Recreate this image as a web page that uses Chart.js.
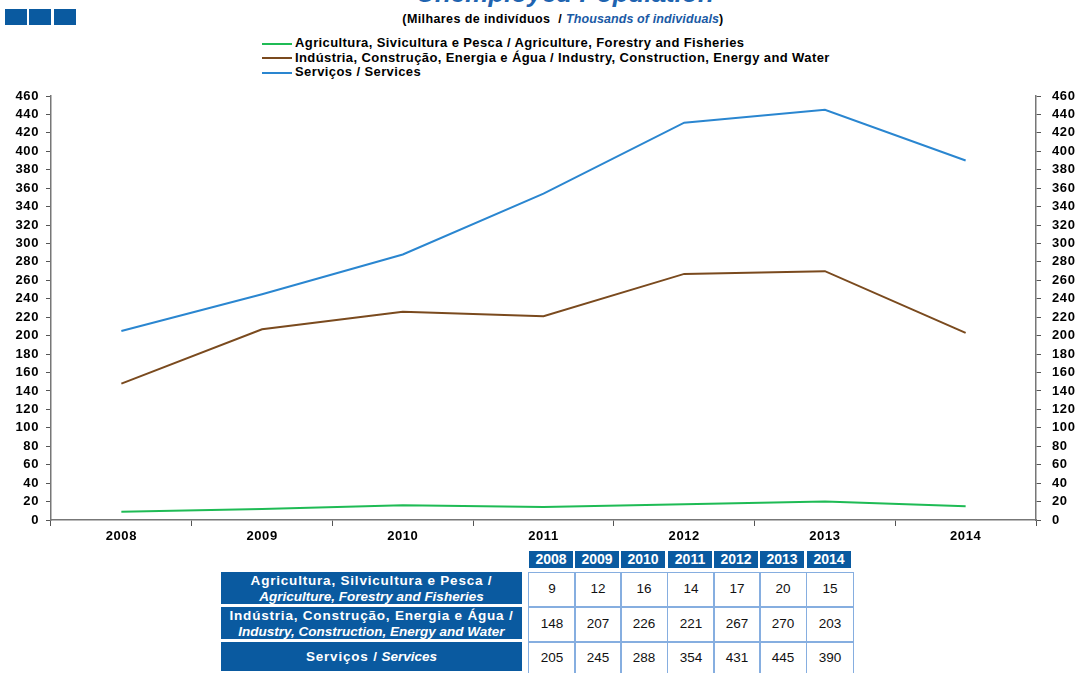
<!DOCTYPE html>
<html>
<head>
<meta charset="utf-8">
<script src="https://cdn.jsdelivr.net/npm/chart.js"></script>
<style>
  body { margin: 0; width: 1080px; height: 673px; overflow: hidden; background: #fff; font-family: "Liberation Sans", Arial, sans-serif; position: relative; }
  .sq { position: absolute; top: 9px; width: 22px; height: 16px; background: #0a5aa0; }
  #title { position: absolute; left: 0; width: 1130px; top: -22px; text-align: center; font: italic bold 26px "Liberation Sans", Arial, sans-serif; color: #1f64b0; }
  #subtitle { position: absolute; left: 0; width: 1126px; top: 12px; text-align: center; font: bold 12.5px "Liberation Sans", Arial, sans-serif; letter-spacing: 0.4px; }
  #subtitle i { color: #1a5aa5; letter-spacing: 0.1px; }
  #legend { position: absolute; left: 262px; top: 36px; font: bold 13px "Liberation Sans", Arial, sans-serif; letter-spacing: 0.4px; }
  #legend div { height: 14.5px; line-height: 14.5px; white-space: nowrap; }
  #legend span.ln { display: inline-block; width: 30px; height: 2px; vertical-align: middle; margin-right: 3px; }
  #wrap { position: absolute; left: 0; top: 0; width: 1080px; height: 545px; }
  .yr { position: absolute; top: 551px; height: 17px; width: 44px; background: #0a5aa0; color: #fff; font: bold 14px "Liberation Sans", Arial, sans-serif; text-align: center; line-height: 17px; }
  .rh { position: absolute; left: 221px; width: 301px; background: #0a5aa0; color: #fff; font: bold 13.5px "Liberation Sans", Arial, sans-serif; text-align: center; line-height: 16px; display: flex; flex-direction: column; justify-content: center; padding-top: 1px; box-sizing: border-box; }
  .rh .n { letter-spacing: 0.8px; }
  .cell { position: absolute; width: 44px; height: 33px; border: 1.5px solid #86aee0; box-sizing: border-box; font: 13.5px "Liberation Sans", Arial, sans-serif; text-align: center; line-height: 31px; color: #111; }
</style>
</head>
<body>
<div class="sq" style="left:5px"></div>
<div class="sq" style="left:29px"></div>
<div class="sq" style="left:54px"></div>
<div id="title">Unemployed Population</div>
<div id="subtitle">(Milhares de indivíduos&nbsp; / <i>Thousands of individuals</i>)</div>
<div id="legend"></div>
<div id="wrap"><canvas id="chart"></canvas></div>
<div id="table"></div>
<script>
const years = ['2008', '2009', '2010', '2011', '2012', '2013', '2014'];
const agriculture = [9, 12, 16, 14, 17, 20, 15];
const industry = [148, 207, 226, 221, 267, 270, 203];
const services = [205, 245, 288, 354, 431, 445, 390];

const seriesNames = [
  'Agricultura, Sivicultura e Pesca / Agriculture, Forestry and Fisheries',
  'Indústria, Construção, Energia e Água / Industry, Construction, Energy and Water',
  'Serviços / Services'
];
const rowHeads = [
  ['Agricultura, Silvicultura e Pesca /', 'Agriculture, Forestry and Fisheries'],
  ['Indústria, Construção, Energia e Água /', 'Industry, Construction, Energy and Water'],
  ['Serviços /', 'Services']
];
const colors = ['#1fbb55', '#7a4a1e', '#2a86d0'];
const seriesData = [agriculture, industry, services];

const tickFont = { family: '"Liberation Sans", Arial, sans-serif', size: 13, weight: 'bold' };

// slightly wider tick text, like the original export
const spacing = {
  id: 'spacing',
  beforeLayout: c => { c.ctx.letterSpacing = '0.6px'; },
  beforeDraw: c => { c.ctx.letterSpacing = '0.6px'; }
};

const ctx = document.getElementById('chart').getContext('2d');
const chart = new Chart(ctx, {
  type: 'line',
  data: {
    labels: years,
    datasets: seriesData.map((d, i) => ({
      label: seriesNames[i],
      data: d,
      borderColor: colors[i],
      backgroundColor: colors[i],
      borderWidth: 2,
      pointRadius: 0,
      tension: 0,
      yAxisID: 'y'
    }))
  },
  plugins: [spacing],
  options: {
    responsive: true,
    maintainAspectRatio: false,
    animation: false,
    layout: { padding: { top: 96, left: 0, right: 0, bottom: 0 } },
    plugins: { legend: { display: false }, tooltip: { enabled: false } },
    scales: {
      x: {
        offset: true,
        grid: { offset: true, drawOnChartArea: false, drawTicks: true, tickLength: 6, color: '#555' },
        border: { color: '#777', width: 1.5 },
        ticks: { color: '#000', font: tickFont, padding: 3, autoSkip: false, maxRotation: 0 },
        afterFit: s => { s.height = 25; }
      },
      y: {
        position: 'left',
        min: 0, max: 460,
        grid: { drawOnChartArea: false, tickLength: 5, color: '#555' },
        border: { color: '#777', width: 1.5 },
        ticks: { stepSize: 20, color: '#000', font: tickFont, padding: 7, autoSkip: false },
        afterFit: s => { s.width = 51; }
      },
      y1: {
        position: 'right',
        min: 0, max: 460,
        grid: { drawOnChartArea: false, tickLength: 5, color: '#555' },
        border: { color: '#777', width: 1.5 },
        ticks: { stepSize: 20, color: '#000', font: tickFont, padding: 11, autoSkip: false },
        afterFit: s => { s.width = 44; }
      }
    }
  }
});

// legend
const legend = document.getElementById('legend');
seriesNames.forEach((n, i) => {
  const row = document.createElement('div');
  row.innerHTML = '<span class="ln" style="background:' + colors[i] + '"></span>' + n;
  legend.appendChild(row);
});

// data table
const table = document.getElementById('table');
const colX = [529, 575, 621, 668, 714, 760, 807];
const rowY = [572, 607, 642];
const rowH = [34, 34, 31];
years.forEach((y, j) => {
  const d = document.createElement('div');
  d.className = 'yr';
  d.style.left = colX[j] + 'px';
  d.textContent = y;
  table.appendChild(d);
});
rowHeads.forEach((h, i) => {
  const d = document.createElement('div');
  d.className = 'rh';
  d.style.top = rowY[i] + 'px';
  d.style.height = (rowH[i] - 2) + 'px';
  if (i === 2) d.innerHTML = '<div><span class="n">' + h[0] + '</span> <i>' + h[1] + '</i></div>';
  else d.innerHTML = '<div class="n">' + h[0] + '</div><div><i>' + h[1] + '</i></div>';
  table.appendChild(d);
  seriesData[i].forEach((v, j) => {
    const c = document.createElement('div');
    c.className = 'cell';
    c.style.left = (colX[j] - 1) + 'px';
    c.style.top = rowY[i] + 'px';
    c.style.width = '48px';
    c.style.height = (rowH[i] + 1) + 'px';
    c.style.lineHeight = (rowH[i] - 2) + 'px';
    c.textContent = v;
    table.appendChild(c);
  });
});
</script>
</body>
</html>
